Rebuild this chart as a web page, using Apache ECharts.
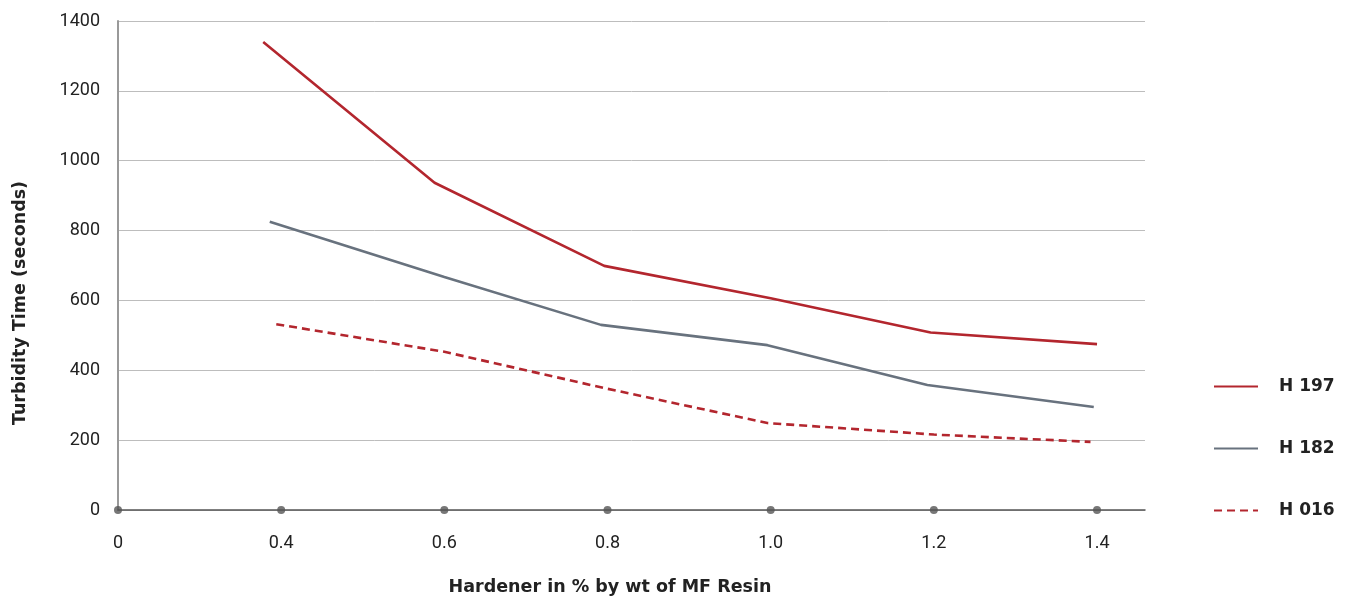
<!DOCTYPE html>
<html><head><meta charset="utf-8">
<script src="https://cdn.jsdelivr.net/npm/echarts@6/dist/echarts.min.js"></script>
<style>html,body{margin:0;padding:0;background:#fff}#c{width:1348px;height:603px}</style>
</head><body><div id="c"></div>
<script>
// x positions are category index units (0 = "0", 1 = "0.4", ... 6 = "1.4")
const xTickLabels = ['0','0.4','0.6','0.8','1.0','1.2','1.4'];
const tickIndex = [0,1,2,3,4,5,6];
const h197X = [0.89, 1.94, 2.98, 4.0, 4.98, 6.0];
const h197Y = [1340, 937, 699, 606, 508, 475];
const h182X = [0.93, 2.0, 2.96, 3.98, 4.96, 5.98];
const h182Y = [825, 667, 530, 472, 358, 295];
const h016X = [0.97, 2.0, 3.0, 3.98, 5.0, 5.96];
const h016Y = [532, 453, 347, 249, 216, 195];
const seriesNames = ['H 197','H 182','H 016'];
const yTicks = [0,200,400,600,800,1000,1200,1400];

const pair = (xs, ys) => xs.map((x,i)=>[x, ys[i]]);
const RED = '#b3262e', GRAY = '#68727e';
const chart = echarts.init(document.getElementById('c'));
chart.setOption({
  animation:false,
  grid:{left:118,right:203,top:21,bottom:93,containLabel:false},
  xAxis:{type:'value',min:0,max:6.294,interval:1,
    axisLine:{show:true,onZero:false,lineStyle:{color:'#555',width:1.5}},
    axisTick:{show:false},splitLine:{show:false},
    axisLabel:{showMaxLabel:false,margin:24,fontFamily:'Roboto',fontSize:18,color:'#222',
      formatter:v=>{const i=Math.round(v);return Math.abs(v-i)<1e-6&&xTickLabels[i]!==undefined?xTickLabels[i]:'';}}},
  yAxis:{type:'value',min:yTicks[0],max:yTicks[yTicks.length-1],interval:200,
    axisLine:{show:true,lineStyle:{color:'#999',width:2}},
    axisTick:{show:false},
    splitLine:{show:true,lineStyle:{color:'#bdbdbd',width:1}},
    axisLabel:{margin:18,fontFamily:'Roboto',fontSize:18,color:'#222',formatter:v=>String(v)}},
  legend:{orient:'vertical',left:1213,top:378,padding:0,itemWidth:44,itemHeight:14,itemGap:45,
    itemStyle:{opacity:0},
    textStyle:{fontFamily:'DejaVu Sans',fontWeight:'bold',fontSize:17,color:'#222',padding:[0,0,0,16]},
    data:seriesNames},
  graphic:[
    {type:'text',style:{text:'Turbidity Time (seconds)',font:'bold 17.5px "DejaVu Sans"',fill:'#222',textAlign:'center',textVerticalAlign:'middle'},
      x:20,y:303,rotation:Math.PI/2},
    {type:'text',style:{text:'Hardener in % by wt of MF Resin',font:'bold 17.5px "DejaVu Sans"',fill:'#222',textAlign:'center',textVerticalAlign:'middle'},
      x:610,y:587}
  ],
  series:[
    {name:seriesNames[0],type:'line',symbol:'none',data:pair(h197X,h197Y),lineStyle:{color:RED,width:2.6},itemStyle:{color:RED},z:3},
    {name:seriesNames[1],type:'line',symbol:'none',data:pair(h182X,h182Y),lineStyle:{color:GRAY,width:2.6},itemStyle:{color:GRAY},z:3},
    {name:seriesNames[2],type:'line',symbol:'none',data:pair(h016X,h016Y),lineStyle:{color:RED,width:2.6,type:[8,5]},itemStyle:{color:RED},z:3},
    {name:'ticks',type:'scatter',data:tickIndex.map(i=>[i,0]),symbolSize:8,itemStyle:{color:'#555'},clip:false,z:5,silent:true}
  ]
});
</script></body></html>
